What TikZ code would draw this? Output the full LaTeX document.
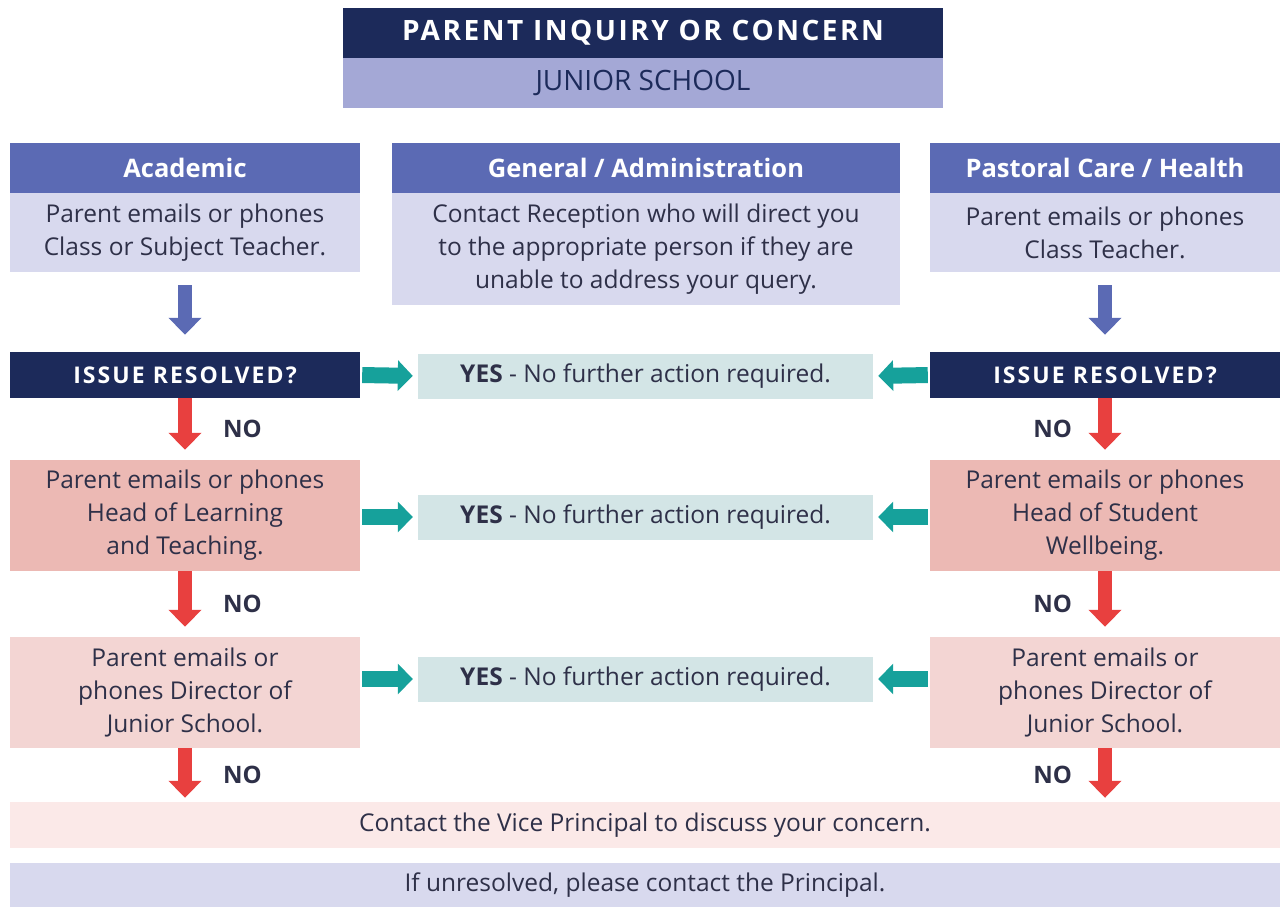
\documentclass[tikz,border=0pt]{standalone}
\usepackage{fontspec}
\setmainfont{Open Sans}
\newfontfamily\spacedfont[LetterSpace=9]{Open Sans}
\usetikzlibrary{arrows.meta}

\definecolor{navy}{HTML}{1C2A5A}
\definecolor{lavender}{HTML}{A4A8D6}
\definecolor{headblue}{HTML}{5B6AB4}
\definecolor{paleblue}{HTML}{D8D9EE}
\definecolor{salmon}{HTML}{ECB9B4}
\definecolor{rosy}{HTML}{F3D5D3}
\definecolor{blush}{HTML}{FBE9E8}
\definecolor{mint}{HTML}{D3E5E6}
\definecolor{teal}{HTML}{16A19B}
\definecolor{redarr}{HTML}{E8403F}
\definecolor{ink}{HTML}{2E3048}

\begin{document}
\begin{tikzpicture}[x=1pt, y=-1pt,
	box/.style={rectangle, inner sep=0pt, align=center, text=ink,
		font=\fontsize{24.5}{33}\selectfont},
	navybox/.style={box, fill=navy, text=white,
		font=\fontsize{23}{26}\spacedfont\bfseries},
	headbox/.style={box, fill=headblue, text=white, minimum height=50pt,
		font=\fontsize{25.5}{28}\selectfont\bfseries},
	yesbox/.style={box, fill=mint, minimum width=455pt, minimum height=45pt},
	bluearrow/.style={draw=headblue, line width=14pt,
		-{Triangle[width=32pt,length=17pt]}, shorten <=13pt, shorten >=17pt},
	redarrow/.style={draw=redarr, line width=14pt,
		-{Triangle[width=32pt,length=17pt]}, shorten >=10pt},
	tealarrow/.style={draw=teal, line width=16pt,
		-{Triangle[width=30pt,length=15pt]}, shorten <=2pt, shorten >=5pt},
	nolabel/.style={text=ink, inner sep=0pt, font=\fontsize{24}{26}\selectfont\bfseries}]

	\useasboundingbox (0,0) rectangle (1280,907);

	% title
	\node[navybox, minimum width=600pt, minimum height=50pt,
		font=\fontsize{28}{30}\spacedfont\bfseries] (title) at (643,33) {PARENT INQUIRY OR CONCERN};
	\node[box, fill=lavender, minimum width=600pt, minimum height=50pt, text=navy,
		font=\fontsize{28}{30}\selectfont] (junior) at (643,83) {JUNIOR SCHOOL};

	% three columns
	\node[headbox, minimum width=350pt] (acadhead) at (185,168) {Academic};
	\node[headbox, minimum width=508pt] (genhead) at (646,168) {General / Administration};
	\node[headbox, minimum width=350pt] (pasthead) at (1105,168) {Pastoral Care / Health};

	\node[box, fill=paleblue, minimum width=350pt, minimum height=79pt] (acadbody) at (185,232.5)
		{Parent emails or phones\\Class or Subject Teacher.};
	\node[box, fill=paleblue, minimum width=508pt, minimum height=112pt] (genbody) at (646,249)
		{Contact Reception who will direct you\\to the appropriate person if they are\\unable to address your query.};
	\node[box, fill=paleblue, minimum width=350pt, minimum height=79pt] (pastbody) at (1105,232.5)
		{Parent emails or phones\\Class Teacher.};

	% first check
	\node[navybox, minimum width=350pt, minimum height=46pt] (issueL) at (185,375) {ISSUE RESOLVED?};
	\node[navybox, minimum width=350pt, minimum height=46pt] (issueR) at (1105,375) {ISSUE RESOLVED?};
	\node[yesbox] (yesA) at (645.5,376) {\textbf{YES} - No further action required.};

	% heads
	\node[box, fill=salmon, minimum width=350pt, minimum height=111pt] (headL) at (185,515.5)
		{Parent emails or phones\\Head of Learning\\and Teaching.};
	\node[box, fill=salmon, minimum width=350pt, minimum height=111pt] (headR) at (1105,515.5)
		{Parent emails or phones\\Head of Student\\Wellbeing.};
	\node[yesbox] (yesB) at (645.5,517) {\textbf{YES} - No further action required.};

	% directors
	\node[box, fill=rosy, minimum width=350pt, minimum height=111pt] (dirL) at (185,692.5)
		{Parent emails or\\phones Director of\\Junior School.};
	\node[box, fill=rosy, minimum width=350pt, minimum height=111pt] (dirR) at (1105,692.5)
		{Parent emails or\\phones Director of\\Junior School.};
	\node[yesbox] (yesC) at (645.5,679) {\textbf{YES} - No further action required.};

	% last steps
	\node[box, fill=blush, minimum width=1270pt, minimum height=46pt] (vice) at (645,825)
		{Contact the Vice Principal to discuss your concern.};
	\node[box, fill=paleblue, minimum width=1270pt, minimum height=44pt] (principal) at (645,885)
		{If unresolved, please contact the Principal.};

	% arrows
	\draw[bluearrow] (acadbody.south) -- (issueL.north);
	\draw[bluearrow] (pastbody.south) -- (issueR.north);

	\draw[tealarrow] (issueL.east) -- (yesA.west);
	\draw[tealarrow] (issueR.west) -- (yesA.east);
	\draw[tealarrow] (headL.east |- yesB.west) -- (yesB.west);
	\draw[tealarrow] (headR.west |- yesB.east) -- (yesB.east);
	\draw[tealarrow] (dirL.east |- yesC.west) -- (yesC.west);
	\draw[tealarrow] (dirR.west |- yesC.east) -- (yesC.east);

	\draw[redarrow] (issueL.south) -- node[nolabel, anchor=west, xshift=31pt] {NO} (headL.north);
	\draw[redarrow] (issueR.south) -- node[nolabel, anchor=east, xshift=-26pt] {NO} (headR.north);
	\draw[redarrow] (headL.south) -- node[nolabel, anchor=west, xshift=31pt] {NO} (dirL.north);
	\draw[redarrow] (headR.south) -- node[nolabel, anchor=east, xshift=-26pt] {NO} (dirR.north);
	\draw[redarrow, shorten >=4pt] (dirL.south) -- node[nolabel, anchor=west, xshift=31pt] {NO} (dirL.south |- vice.north);
	\draw[redarrow, shorten >=4pt] (dirR.south) -- node[nolabel, anchor=east, xshift=-26pt] {NO} (dirR.south |- vice.north);
\end{tikzpicture}
\end{document}
